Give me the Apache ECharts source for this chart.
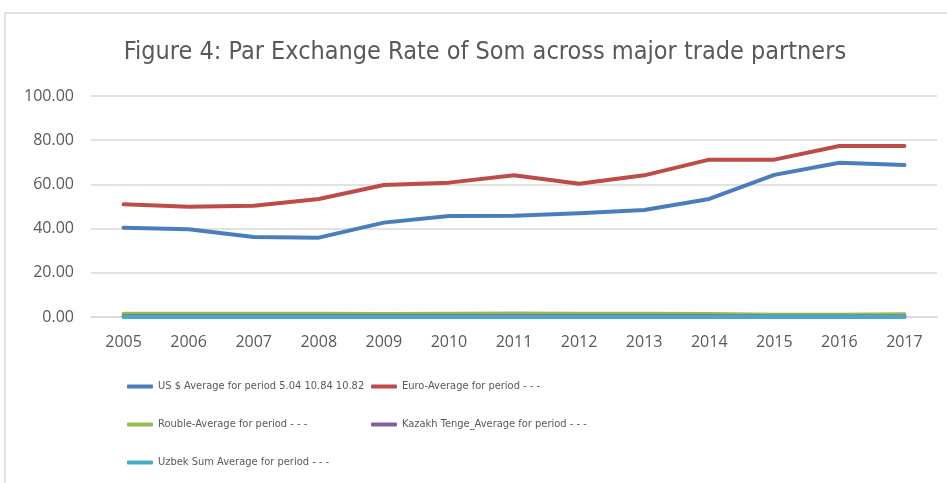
<!DOCTYPE html>
<html>
<head>
<meta charset="utf-8">
<script src="https://cdn.jsdelivr.net/npm/echarts@6/dist/echarts.min.js"></script>
<style>
  html, body { margin: 0; padding: 0; background: #ffffff; }
  #chart { width: 947px; height: 483px; }
</style>
</head>
<body>
<div id="chart"></div>
<script>
const years = ["2005", "2006", "2007", "2008", "2009", "2010", "2011", "2012", "2013", "2014", "2015", "2016", "2017"];
const usd = [40.4, 39.7, 36.2, 35.9, 42.7, 45.7, 45.8, 47.0, 48.4, 53.4, 64.3, 69.8, 68.8];
const euro = [51.0, 49.9, 50.3, 53.4, 59.7, 60.8, 64.1, 60.3, 64.1, 71.2, 71.2, 77.4, 77.4];
const rouble = [1.45, 1.50, 1.48, 1.47, 1.36, 1.50, 1.60, 1.49, 1.50, 1.40, 1.05, 1.04, 1.20];
const tenge = [0.30, 0.31, 0.30, 0.30, 0.29, 0.31, 0.31, 0.31, 0.31, 0.29, 0.27, 0.20, 0.21];
const uzs = [0.03, 0.03, 0.03, 0.03, 0.03, 0.03, 0.03, 0.03, 0.02, 0.02, 0.02, 0.01, 0.01];
const yTicks = [0, 20, 40, 60, 80, 100];

const names = [
  "US $ Average for period 5.04 10.84 10.82",
  "Euro-Average for period - - -",
  "Rouble-Average for period - - -",
  "Kazakh Tenge_Average for period - - -",
  "Uzbek Sum Average for period - - -"
];
const colors = ["#4a7ebb", "#be4b48", "#98b954", "#7d60a0", "#46aac5"];
const values = [usd, euro, rouble, tenge, uzs];

const textColor = "#595959";
const narrow = "'DejaVu Sans Condensed', Roboto, sans-serif";
const axisFont = "'Open Sans', sans-serif";

// legend placement, one legend per item
const legendPos = [[122, 376], [366, 376], [122, 414], [366, 414], [122, 452]];

const chart = echarts.init(document.getElementById("chart"));
const options = {
  animation: false,
  title: {
    text: "Figure 4: Par Exchange Rate of Som across major trade partners",
    left: 480,
    textAlign: "center",
    top: 35,
    textStyle: { color: textColor, fontSize: 25, fontWeight: "normal", fontFamily: narrow }
  },
  graphic: [{
    type: "rect",
    shape: { x: 5, y: 13, width: 1000, height: 600 },
    style: { fill: "none", stroke: "#d9d9d9", lineWidth: 1.5 },
    silent: true
  }],
  legend: names.map((n, i) => ({
    data: [n],
    left: legendPos[i][0],
    top: legendPos[i][1],
    itemWidth: 26,
    itemHeight: 4,
    itemGap: 4,
    icon: "roundRect",
    textStyle: { color: textColor, fontSize: 11, fontFamily: narrow }
  })),
  grid: { left: 91, right: 10, top: 96, height: 221 },
  xAxis: {
    type: "category",
    data: years,
    boundaryGap: true,
    axisLine: { lineStyle: { color: "#d9d9d9", width: 1.5 } },
    axisTick: { show: false },
    axisLabel: { color: textColor, fontSize: 16, fontFamily: axisFont, margin: 17 }
  },
  yAxis: {
    type: "value",
    min: yTicks[0],
    max: yTicks[yTicks.length - 1],
    interval: 20,
    axisLine: { show: false },
    axisTick: { show: false },
    splitLine: { lineStyle: { color: "#d9d9d9", width: 1.5 } },
    axisLabel: {
      color: textColor, fontSize: 16, fontFamily: axisFont, margin: 17,
      formatter: v => v.toFixed(2)
    }
  },
  series: names.map((n, i) => ({
    name: n,
    type: "line",
    data: values[i],
    symbol: "none",
    color: colors[i],
    lineStyle: { width: 4, color: colors[i], cap: "round", join: "round" }
  }))
};
chart.setOption(options);
</script>
</body>
</html>
